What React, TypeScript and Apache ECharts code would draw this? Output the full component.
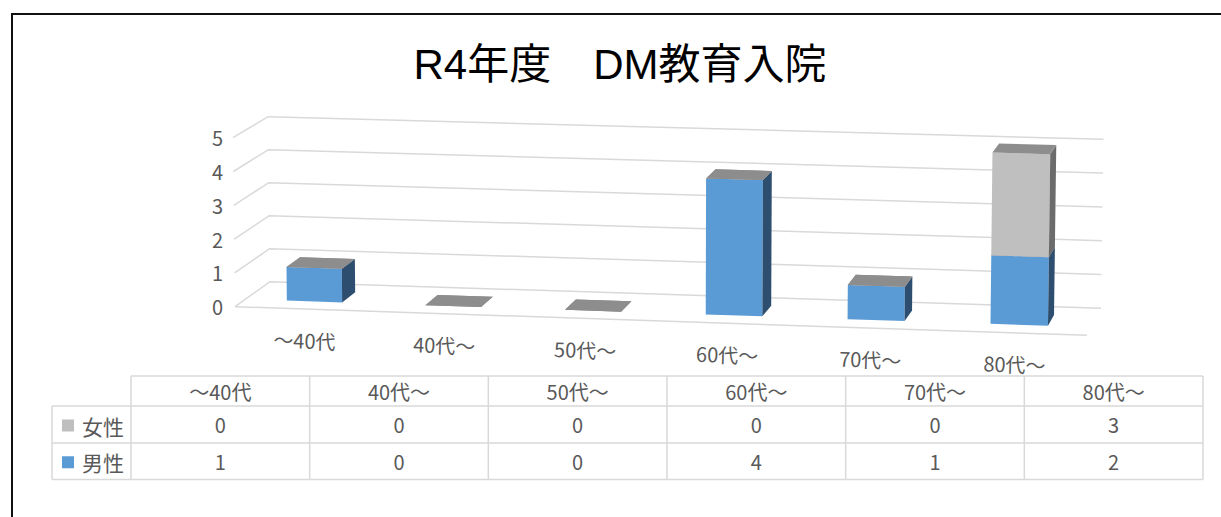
import React, { useEffect, useRef } from "react";
import * as echarts from "echarts";

// ---- data ----
const categories = ["～40代", "40代～", "50代～", "60代～", "70代～", "80代～"];
const femaleValues = [0, 0, 0, 0, 0, 3];
const maleValues = [1, 0, 0, 4, 1, 2];
const yTicks = [0, 1, 2, 3, 4, 5];
const seriesNames = ["女性", "男性"];
const titleText = "R4年度　DM教育入院";

// ---- style / geometry ----
const FONT = '"Noto Sans CJK JP", "Noto Sans", sans-serif';
const TEXT_COLOR = "#595959";
const GRID_COLOR = "#d9d9d9";
const BLUE = { front: "#5b9bd5", side: "#2e4e70", top: "#8d8d8d" };
const GREY = { front: "#bfbfbf", side: "#6b6b6b", top: "#8d8d8d" };
const DEPTH_L = [35, -25];
const DEPTH_R = [14, -27];
const FLOOR_DROP = 28.6;
const WARP = 0.0234;
const BAR_D0 = 0.3;
const BAR_D1 = 0.7;
const BAR_FRAC = 0.4;

function makeProj(cs: any) {
  const x0 = cs.x;
  const x1 = cs.x + cs.width;
  const y0 = cs.y + cs.height;
  return (u: number, d: number, h: number): number[] => {
    const g = u + WARP * u * (u - 1);
    const xl = x0 + DEPTH_L[0] * d;
    const yl = y0 + DEPTH_L[1] * d;
    const xr = x1 + DEPTH_R[0] * d;
    const yr = y0 + FLOOR_DROP + DEPTH_R[1] * d;
    const k = 1 - 0.0237 * d + 0.0237 * g;
    const dx = (-0.0118 + 0.0266 * g) * h;
    return [xl + (xr - xl) * g + dx, yl + (yr - yl) * g - h * k];
  };
}

function renderGrid(params: any, api: any) {
  const cs = params.coordSys;
  const P = makeProj(cs);
  const y0 = cs.y + cs.height;
  const v = api.value(1);
  const h = y0 - api.coord([0, v])[1];
  const ls = { stroke: GRID_COLOR, lineWidth: 1.5 };
  const a = P(0, 0, h), b = P(0, 1, h), c = P(1, 1, h);
  const children: any[] = [
    { type: "polyline", shape: { points: [a, b, c] }, style: { ...ls, fill: "none" } },
  ];
  if (v === 0) {
    const f1 = P(1, 0, 0);
    children.push({ type: "line", shape: { x1: a[0], y1: a[1], x2: f1[0], y2: f1[1] }, style: ls });
  }
  return { type: "group", children };
}

function makeBarRenderer(colors: any) {
  return (params: any, api: any) => {
    const cs = params.coordSys;
    const P = makeProj(cs);
    const y0 = cs.y + cs.height;
    const i = api.value(0);
    const val = api.value(1);
    const base = api.value(2) || 0;
    const c0 = api.coord([i, base]);
    const c1 = api.coord([i, base + val]);
    const band = api.size([1, 0])[0];
    const uc = (c0[0] - cs.x) / cs.width;
    const bu = ((band / cs.width) * BAR_FRAC) / 2;
    const ua = uc - bu, ub = uc + bu;
    const h0 = y0 - c0[1], h1 = y0 - c1[1];
    const da = BAR_D0, db = BAR_D1;
    const children: any[] = [];
    if (h1 - h0 > 0.01) {
      children.push({
        type: "polygon",
        shape: { points: [P(ua, da, h0), P(ub, da, h0), P(ub, da, h1), P(ua, da, h1)] },
        style: { fill: colors.front },
      });
      children.push({
        type: "polygon",
        shape: { points: [P(ub, da, h0), P(ub, db, h0), P(ub, db, h1), P(ub, da, h1)] },
        style: { fill: colors.side },
      });
    }
    children.push({
      type: "polygon",
      shape: { points: [P(ua, da, h1), P(ub, da, h1), P(ub, db, h1), P(ua, db, h1)] },
      style: { fill: colors.top },
    });
    return { type: "group", children };
  };
}

function renderCatLabel(params: any, api: any) {
  const cs = params.coordSys;
  const P = makeProj(cs);
  const i = api.value(0);
  const c = api.coord([i, 0]);
  const uc = (c[0] - cs.x) / cs.width;
  const p = P(uc, 0, 0);
  return {
    type: "text",
    x: p[0],
    y: p[1] + 31,
    rotation: -Math.atan(FLOOR_DROP / cs.width),
    style: {
      text: categories[i],
      fill: TEXT_COLOR,
      font: `20px ${FONT}`,
      align: "center",
      verticalAlign: "middle",
    },
  };
}

function buildTable(): any[] {
  const left0 = 52, left1 = 131, right = 1203;
  const rows = [376, 406, 443, 479.5];
  const colW = (right - left1) / categories.length;
  const ls = { stroke: GRID_COLOR, lineWidth: 1.5 };
  const els: any[] = [];
  els.push({ type: "line", shape: { x1: left1, y1: rows[0], x2: right, y2: rows[0] }, style: ls });
  for (let r = 1; r < rows.length; r++) {
    els.push({ type: "line", shape: { x1: left0, y1: rows[r], x2: right, y2: rows[r] }, style: ls });
  }
  els.push({ type: "line", shape: { x1: left0, y1: rows[1], x2: left0, y2: rows[3] }, style: ls });
  for (let k = 0; k <= categories.length; k++) {
    const x = left1 + colW * k;
    els.push({ type: "line", shape: { x1: x, y1: rows[0], x2: x, y2: rows[3] }, style: ls });
  }
  const txt = (text: string, x: number, y: number, align = "center", size = 20) => ({
    type: "text",
    x,
    y,
    style: { text, fill: TEXT_COLOR, font: `${size}px ${FONT}`, align, verticalAlign: "middle" },
  });
  categories.forEach((c, k) => els.push(txt(c, left1 + colW * (k + 0.5), (rows[0] + rows[1]) / 2)));
  const rowData = [femaleValues, maleValues];
  const keyColors = [GREY.front, BLUE.front];
  rowData.forEach((vals, r) => {
    const yc = (rows[r + 1] + rows[r + 2]) / 2 + 1;
    els.push({ type: "rect", shape: { x: 62, y: yc - 6, width: 12, height: 12 }, style: { fill: keyColors[r] } });
    els.push(txt(seriesNames[r], 82, yc, "left", 21));
    vals.forEach((v, k) => els.push(txt(String(v), left1 + colW * (k + 0.5), yc - 1)));
  });
  return els;
}

export default function App() {
  const ref = useRef<HTMLDivElement>(null);
  useEffect(() => {
    if (!ref.current) return;
    const chart = echarts.init(ref.current, undefined, { renderer: "svg" });
    const option: any = {
      animation: false,
      backgroundColor: "#ffffff",
      grid: { left: 235, top: 137.7, width: 852, height: 169 },
      xAxis: {
        type: "category",
        data: categories,
        show: false,
      },
      yAxis: {
        type: "value",
        min: 0,
        max: 5,
        interval: 1,
        axisLine: { show: false },
        axisTick: { show: false },
        splitLine: { show: false },
        axisLabel: { color: TEXT_COLOR, fontSize: 20, fontFamily: FONT, margin: 12 },
      },
      graphic: [
        {
          type: "rect",
          shape: { x: 12, y: 14, width: 1400, height: 700 },
          style: { fill: "none", stroke: "#111", lineWidth: 2 },
          silent: true,
        },
        {
          type: "text",
          x: 620,
          y: 64,
          style: {
            text: titleText,
            fill: "#000",
            font: `42px "Liberation Sans", ${FONT}`,
            align: "center",
            verticalAlign: "middle",
          },
        },
        ...buildTable(),
      ],
      series: [
        {
          type: "custom",
          name: "grid",
          silent: true,
          renderItem: renderGrid,
          data: yTicks.map((v) => [0, v]),
          encode: { x: 0, y: 1 },
          z: 1,
        },
        {
          type: "custom",
          name: seriesNames[1],
          renderItem: makeBarRenderer(BLUE),
          data: maleValues.map((v, i) => [i, v, 0]),
          encode: { x: 0, y: 1 },
          z: 2,
        },
        {
          type: "custom",
          name: seriesNames[0],
          renderItem: makeBarRenderer(GREY),
          data: femaleValues.map((v, i) => [i, v, maleValues[i]]),
          encode: { x: 0, y: 1 },
          z: 3,
        },
        {
          type: "custom",
          name: "labels",
          silent: true,
          renderItem: renderCatLabel,
          data: categories.map((_, i) => [i, 0]),
          encode: { x: 0, y: 1 },
          z: 4,
        },
      ],
    };
    chart.setOption(option);
    return () => chart.dispose();
  }, []);
  return (
    <div
      ref={ref}
      style={{ position: "fixed", left: 0, top: 0, width: 1221, height: 517, background: "#fff" }}
    />
  );
}
